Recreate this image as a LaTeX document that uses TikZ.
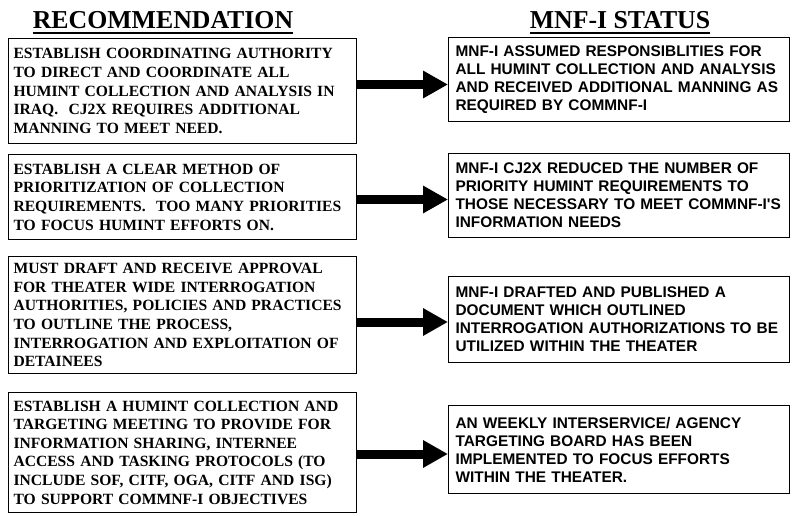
\documentclass[tikz,border=0pt]{standalone}
\usepackage{fontspec}
\setmainfont{Liberation Serif}
\newfontfamily\arialfont{Liberation Sans}
\usetikzlibrary{arrows.meta}
\begin{document}
\begin{tikzpicture}[x=1pt,y=-1pt,
  lbox/.style={draw=black, line width=1.1pt, anchor=north west, inner xsep=5pt, inner ysep=0pt,
    text width=338pt, align=left, font=\fontsize{15.6}{18.6}\selectfont\bfseries},
  rbox/.style={draw=black, line width=1.1pt, anchor=north west, inner xsep=7pt, inner ysep=0pt,
    text width=327pt, align=left, font=\arialfont\fontsize{15.4}{18}\selectfont\bfseries},
  heading/.style={font=\fontsize{25.8}{30}\selectfont\bfseries, anchor=base, inner sep=0pt},
  uline/.style={draw=black, line width=2.2pt},
  bigarrow/.style={line width=9pt, -{Triangle[length=25pt,width=26pt]}}
]
\useasboundingbox (0,0) rectangle (795,515);
\fill[white] (0,0) rectangle (795,515);

\node[heading] (h1) at (163,28) {RECOMMENDATION};
\node[heading] (h2) at (620,28) {MNF-I STATUS};
\path (h1.base west) ++(0,5) coordinate (u1a);
\path (h1.base east) ++(0,5) coordinate (u1b);
\path (h2.base west) ++(0,5) coordinate (u2a);
\path (h2.base east) ++(0,5) coordinate (u2b);
\draw[uline] (u1a) -- (u1b);
\draw[uline] (u2a) -- (u2b);

\node[lbox, minimum height=105pt] (L1) at (8,38) {ESTABLISH COORDINATING AUTHORITY\\TO DIRECT AND COORDINATE ALL\\HUMINT COLLECTION AND ANALYSIS IN\\IRAQ.\ \ CJ2X REQUIRES ADDITIONAL\\MANNING TO MEET NEED.};
\node[lbox, minimum height=85pt] (L2) at (8,154) {ESTABLISH A CLEAR METHOD OF\\PRIORITIZATION OF COLLECTION\\REQUIREMENTS.\ \ TOO MANY PRIORITIES\\TO FOCUS HUMINT EFFORTS ON.};
\node[lbox, minimum height=117pt] (L3) at (8,256) {MUST DRAFT AND RECEIVE APPROVAL\\FOR THEATER WIDE INTERROGATION\\AUTHORITIES, POLICIES AND PRACTICES\\TO OUTLINE THE PROCESS,\\INTERROGATION AND EXPLOITATION OF\\DETAINEES};
\node[lbox, minimum height=120pt] (L4) at (8,392) {ESTABLISH A HUMINT COLLECTION AND\\TARGETING MEETING TO PROVIDE FOR\\INFORMATION SHARING, INTERNEE\\ACCESS AND TASKING PROTOCOLS (TO\\INCLUDE SOF, CITF, OGA, CITF AND ISG)\\TO SUPPORT COMMNF-I OBJECTIVES};

\node[rbox, minimum height=84pt] (R1) at (448,37) {MNF-I ASSUMED RESPONSIBLITIES FOR\\ALL HUMINT COLLECTION AND ANALYSIS\\AND RECEIVED ADDITIONAL MANNING AS\\REQUIRED BY COMMNF-I};
\node[rbox, minimum height=84pt] (R2) at (448,153) {MNF-I CJ2X REDUCED THE NUMBER OF\\PRIORITY HUMINT REQUIREMENTS TO\\THOSE NECESSARY TO MEET COMMNF-I'S\\INFORMATION NEEDS};
\node[rbox, minimum height=86pt] (R3) at (448,276) {MNF-I DRAFTED AND PUBLISHED A\\DOCUMENT WHICH OUTLINED\\INTERROGATION AUTHORIZATIONS TO BE\\UTILIZED WITHIN THE THEATER};
\node[rbox, minimum height=88pt] (R4) at (448,405) {AN WEEKLY INTERSERVICE/ AGENCY\\TARGETING BOARD HAS BEEN\\IMPLEMENTED TO FOCUS EFFORTS\\WITHIN THE THEATER.};

\coordinate (a1) at (0,84.5);
\coordinate (a2) at (0,199.5);
\coordinate (a3) at (0,322);
\coordinate (a4) at (0,454);
\draw[bigarrow] (L1.east |- a1) -- (R1.west |- a1);
\draw[bigarrow] (L2.east |- a2) -- (R2.west |- a2);
\draw[bigarrow] (L3.east |- a3) -- (R3.west |- a3);
\draw[bigarrow] (L4.east |- a4) -- (R4.west |- a4);
\end{tikzpicture}
\end{document}
